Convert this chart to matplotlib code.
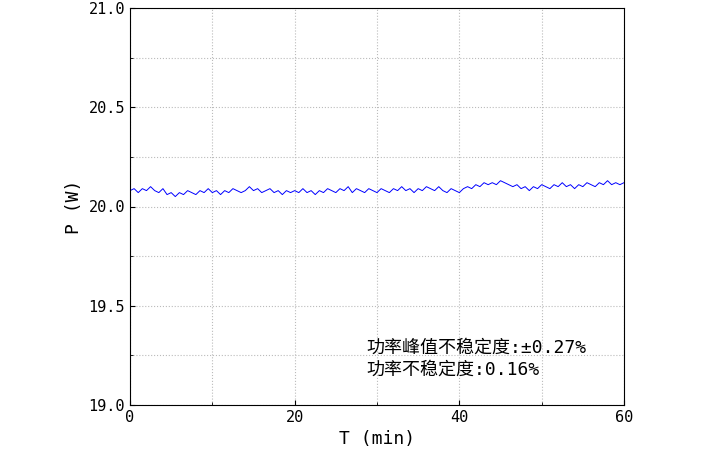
import matplotlib
matplotlib.use('Agg')
import matplotlib.pyplot as plt
from matplotlib.ticker import MultipleLocator
import numpy as np

# power readings every 0.5 min
t_min = np.arange(0, 60.5, 0.5)
power_w = [
    20.08, 20.09, 20.07, 20.09, 20.08, 20.10, 20.08, 20.07, 20.09, 20.06,
    20.07, 20.05, 20.07, 20.06, 20.08, 20.07, 20.06, 20.08, 20.07, 20.09,
    20.07, 20.08, 20.06, 20.08, 20.07, 20.09, 20.08, 20.07, 20.08, 20.10,
    20.08, 20.09, 20.07, 20.08, 20.09, 20.07, 20.08, 20.06, 20.08, 20.07,
    20.08, 20.07, 20.09, 20.07, 20.08, 20.06, 20.08, 20.07, 20.09, 20.08,
    20.07, 20.09, 20.08, 20.10, 20.07, 20.09, 20.08, 20.07, 20.09, 20.08,
    20.07, 20.09, 20.08, 20.07, 20.09, 20.08, 20.10, 20.08, 20.09, 20.07,
    20.09, 20.08, 20.10, 20.09, 20.08, 20.10, 20.08, 20.07, 20.09, 20.08,
    20.07, 20.09, 20.10, 20.09, 20.11, 20.10, 20.12, 20.11, 20.12, 20.11,
    20.13, 20.12, 20.11, 20.10, 20.11, 20.09, 20.10, 20.08, 20.10, 20.09,
    20.11, 20.10, 20.09, 20.11, 20.10, 20.12, 20.10, 20.11, 20.09, 20.11,
    20.10, 20.12, 20.11, 20.10, 20.12, 20.11, 20.13, 20.11, 20.12, 20.11,
    20.12,
]
note_lines = ['功率峰值不稳定度:±0.27%', '功率不稳定度:0.16%']

plt.rcParams['font.family'] = ['DejaVu Sans Mono', 'Noto Sans CJK SC']
plt.rcParams['font.size'] = 11

fig = plt.figure(figsize=(7.24, 4.63), dpi=100)
ax = fig.add_axes([130 / 724, 58 / 463, 494 / 724, 397 / 463])
ax.plot(t_min, power_w, color='blue', linewidth=0.7)

ax.set_xlim(0, 60)
ax.set_ylim(19.0, 21.0)
ax.xaxis.set_major_locator(MultipleLocator(20))
ax.xaxis.set_minor_locator(MultipleLocator(10))
ax.yaxis.set_major_locator(MultipleLocator(0.5))
ax.yaxis.set_minor_locator(MultipleLocator(0.25))
ax.yaxis.set_major_formatter(matplotlib.ticker.FormatStrFormatter('%.1f'))
ax.tick_params(which='both', direction='in')
ax.grid(True, which='both', linestyle=':', color='#bbbbbb', linewidth=0.8)
ax.set_xlabel('T (min)', fontsize=13)
ax.set_ylabel('P (W)', fontsize=13)

ax.text(28.7, 19.265, note_lines[0], fontsize=13)
ax.text(28.7, 19.155, note_lines[1], fontsize=13)

fig.savefig('out.png', dpi=100)
